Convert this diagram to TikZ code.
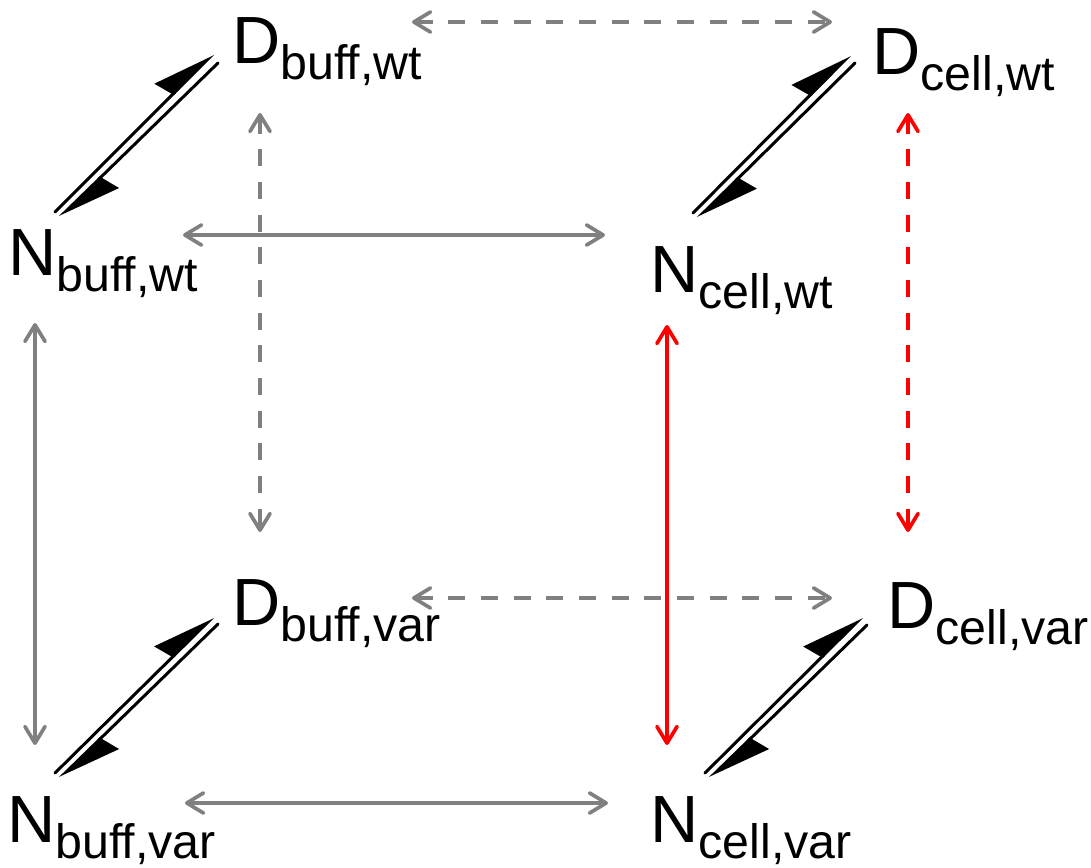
\documentclass[tikz,border=0pt]{standalone}
\usepackage{fontspec}
\setmainfont{Liberation Sans}
\usetikzlibrary{arrows.meta}
\definecolor{linkgray}{HTML}{808080}
\definecolor{linkred}{HTML}{FF0000}
\newcommand\subtxt[1]{\raisebox{-9.6pt}{\fontsize{27.5}{30}\selectfont #1}}
\begin{document}
\begin{tikzpicture}[x=0.02cm,y=-0.02cm,
  lbl/.style={anchor=base west, inner sep=0pt, font=\fontsize{38}{40}\selectfont},
  link/.style={line width=2.1pt, draw=linkgray, {Straight Barb[length=9.5pt,width=11.5pt,round]}-{Straight Barb[length=9.5pt,width=11.5pt,round]}},
  dashlink/.style={link, dash pattern=on 9.6pt off 9pt},
  redlink/.style={link, draw=linkred},
  reddash/.style={dashlink, draw=linkred},
  eqline/.style={line width=1.7pt, line cap=round, -{Stealth[harpoon,length=33pt,width=23pt,inset=3pt]}}]
\useasboundingbox (0,0) rectangle (1091,867);

% species
\node[lbl] (Dbw) at (232,63)  {D\subtxt{buff,wt}};
\node[lbl] (Dcw) at (872,74)  {D\subtxt{cell,wt}};
\node[lbl] (Nbw) at (8,275)   {N\subtxt{buff,wt}};
\node[lbl] (Ncw) at (650,292) {N\subtxt{cell,wt}};
\node[lbl] (Dbv) at (232,625) {D\subtxt{buff,var}};
\node[lbl] (Dcv) at (887,628) {D\subtxt{cell,var}};
\node[lbl] (Nbv) at (7,842)   {N\subtxt{buff,var}};
\node[lbl] (Ncv) at (650,842) {N\subtxt{cell,var}};

% connector end points
\coordinate (top-l) at (412,22);  \coordinate (top-r) at (832,22);
\coordinate (bwv-t) at (260,113); \coordinate (bwv-b) at (260,532);
\coordinate (cwv-t) at (908,113); \coordinate (cwv-b) at (908,532);
\coordinate (nw-l)  at (183,235); \coordinate (nw-r)  at (605,235);
\coordinate (nb-t)  at (35,323);  \coordinate (nb-b)  at (35,745);
\coordinate (nc-t)  at (667,325); \coordinate (nc-b)  at (667,745);
\coordinate (dv-l)  at (412,598); \coordinate (dv-r)  at (832,598);
\coordinate (nv-l)  at (185,803); \coordinate (nv-r)  at (608,803);

% exchange links
\draw[dashlink] (top-l) -- (top-r);
\draw[dashlink] (bwv-t) -- (bwv-b);
\draw[reddash]  (cwv-t) -- (cwv-b);
\draw[link]     (nw-l) -- (nw-r);
\draw[link]     (nb-t) -- (nb-b);
\draw[redlink]  (nc-t) -- (nc-b);
\draw[dashlink] (dv-l) -- (dv-r);
\draw[link]     (nv-l) -- (nv-r);

% binding equilibria
\coordinate (eqbw-a) at (55,212);  \coordinate (eqbw-b) at (213,54);
\coordinate (eqbw-c) at (218,63);  \coordinate (eqbw-d) at (60,217);
\coordinate (eqcw-a) at (693,213); \coordinate (eqcw-b) at (850,55);
\coordinate (eqcw-c) at (855,63);  \coordinate (eqcw-d) at (698,218);
\coordinate (eqcv-a) at (705,773); \coordinate (eqcv-b) at (862,617);
\coordinate (eqcv-c) at (867,625); \coordinate (eqcv-d) at (710,778);
\coordinate (eqbv-a) at (55,773);  \coordinate (eqbv-b) at (213,617);
\coordinate (eqbv-c) at (218,624); \coordinate (eqbv-d) at (60,778);
\foreach \e in {bw,cw,cv,bv}{
  \draw[eqline] (eq\e-a) -- (eq\e-b);
  \draw[eqline] (eq\e-c) -- (eq\e-d);
}
\end{tikzpicture}
\end{document}
